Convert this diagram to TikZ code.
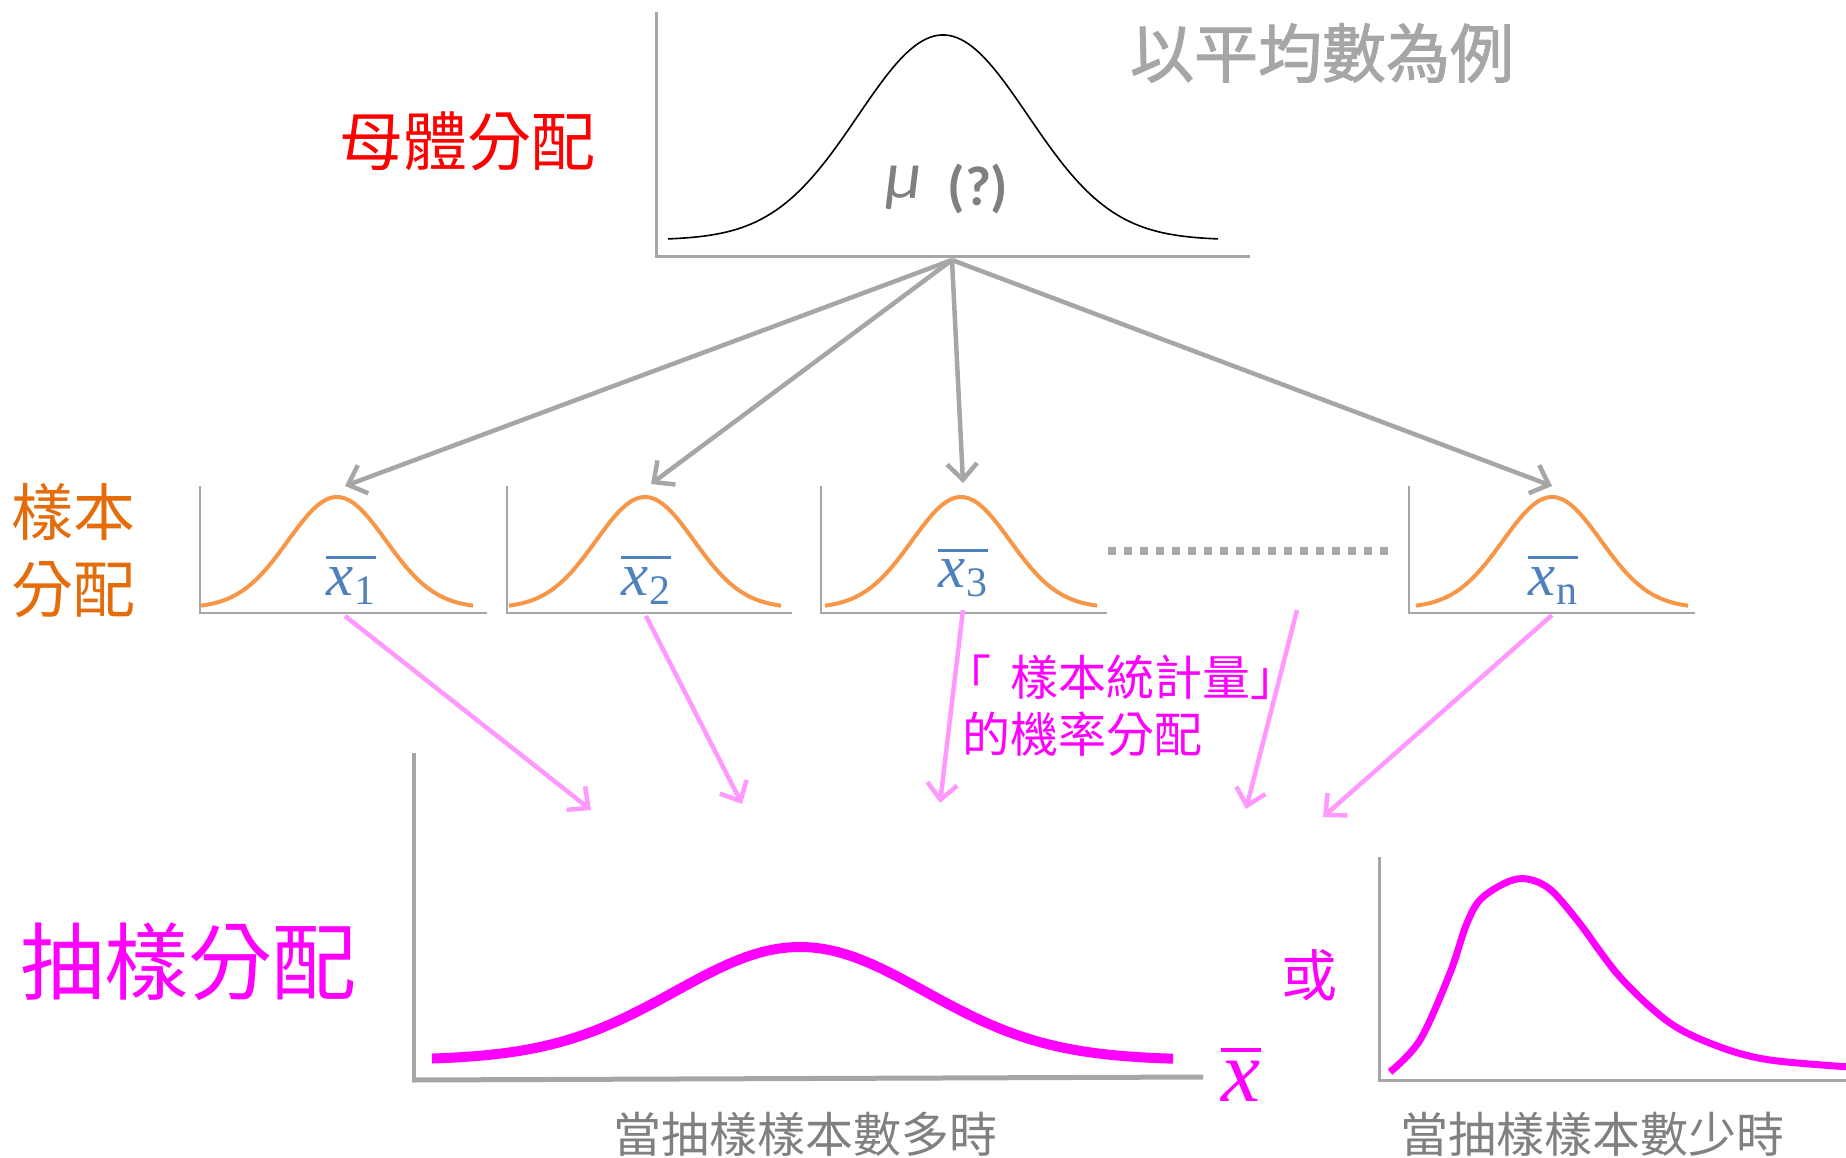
\RequirePackage{fix-cm}
\documentclass[tikz,border=0pt]{standalone}
\usepackage{fontspec}
\usetikzlibrary{arrows.meta}
\newfontfamily\cjk{Noto Sans CJK TC}
\newfontfamily\cjkmed[FakeBold=1.6]{Noto Sans CJK TC}
\newfontfamily\calfont{Carlito}
\newfontfamily\xfont{Liberation Serif}
\definecolor{axisgray}{HTML}{A6A6A6}
\definecolor{txtgray}{HTML}{808080}
\definecolor{orangeC}{HTML}{F79646}
\definecolor{orangeT}{HTML}{E46C0A}
\definecolor{blueL}{HTML}{4F81BD}
\definecolor{pinkA}{HTML}{FF99FF}
\definecolor{mag}{HTML}{FF00FF}
% x-bar label with subscript: #1 = subscript
\newcommand\xsublab[1]{\vbox{\hrule height 3.2pt\kern 8pt\hbox{\itshape x\kern 1.5pt\raisebox{-9pt}{\fontsize{42pt}{42pt}\selectfont\upshape #1}}}}
\newcommand\xbiglab{\vbox{\hrule height 4pt\kern 9pt\hbox{\itshape x}}}
\begin{document}
\begin{tikzpicture}[x=1pt,y=-1pt,
  axisline/.style={draw=axisgray,line width=3pt},
  smallaxis/.style={draw=axisgray,line width=2pt},
  orangecurve/.style={draw=orangeC,line width=4pt},
  grayarrow/.style={draw=axisgray,line width=4.5pt,-{Straight Barb[length=16pt,width=30pt]}},
  pinkarrow/.style={draw=pinkA,line width=4.5pt,-{Straight Barb[length=16pt,width=30pt]}},
  xlabel/.style={text=blueL,inner sep=0pt,font=\xfont\fontsize{61pt}{61pt}\selectfont},
  cjktext/.style={inner sep=0pt,font=\cjk\fontsize{#1}{#1}\selectfont},
]
\useasboundingbox (0,0) rectangle (1846,1158);

% ---------- population distribution ----------
\draw[axisline] (656,12) -- (656,257) -- (1250,257);
\draw[black,line width=1.6pt] plot[domain=-275:275,samples=140]
  ({943+\x},{240-205*exp(-0.5*(\x/85)*(\x/85))});
\node[inner sep=0pt,text=txtgray,font=\calfont\itshape\fontsize{68pt}{70pt}\selectfont] (mu) at (904,188) {μ};
\node[inner sep=0pt,text=txtgray,font=\calfont\bfseries\fontsize{56pt}{60pt}\selectfont] (q) at (978,189) {(?)};
\node[inner sep=0pt,text=axisgray,font=\cjkmed\fontsize{64pt}{64pt}\selectfont] (title) at (1322,53) {以平均數為例};
\node[cjktext=64pt,text=red] (pop) at (467,141) {母體分配};

% ---------- sample distributions ----------
\node[inner sep=0pt,text=orangeT,align=center,font=\cjk\fontsize{62pt}{77pt}\selectfont] (samp) at (74,551) {樣本\\分配};

\draw[smallaxis] (200,486) -- (200,613) -- (487,613);
\draw[smallaxis] (507,486) -- (507,613) -- (792,613);
\draw[smallaxis] (821,486) -- (821,613) -- (1107,613);
\draw[smallaxis] (1409,486) -- (1409,613) -- (1695,613);
\foreach \c in {337,645,961,1552}{
  \draw[orangecurve] plot[domain=-136:136,samples=90]
    ({\c+\x},{608-111*exp(-0.5*(\x/49)*(\x/49))});
}
\node[xlabel] (xb1) at (351,580) {\xsublab{1}};
\node[xlabel] (xb2) at (646,580) {\xsublab{2}};
\node[xlabel] (xb3) at (963,573) {\xsublab{3}};
\node[xlabel] (xbn) at (1553,580) {\xsublab{n}};

\coordinate (d1) at (1108,551);
\coordinate (d2) at (1392,551);
\draw[draw=axisgray,line width=7.5pt,dash pattern=on 8pt off 8pt] (d1) -- (d2);

% gray arrows
\coordinate (src) at (952,260);
\coordinate (t1) at (345,486);
\coordinate (t2) at (651,484);
\coordinate (t3) at (963,483);
\coordinate (t4) at (1552,486);
\draw[grayarrow] (src) -- (t1);
\draw[grayarrow] (src) -- (t2);
\draw[grayarrow] (src) -- (t3);
\draw[grayarrow] (src) -- (t4);

% pink arrows
\coordinate (p1s) at (345,616);  \coordinate (p1e) at (591,810);
\coordinate (p2s) at (646,616);  \coordinate (p2e) at (742,804);
\coordinate (p3s) at (963,610);  \coordinate (p3e) at (940,803);
\coordinate (p4s) at (1297,610); \coordinate (p4e) at (1246,809);
\coordinate (p5s) at (1552,615); \coordinate (p5e) at (1323,817);
\draw[pinkarrow] (p1s) -- (p1e);
\draw[pinkarrow] (p2s) -- (p2e);
\draw[pinkarrow] (p3s) -- (p3e);
\draw[pinkarrow] (p4s) -- (p4e);
\draw[pinkarrow] (p5s) -- (p5e);

\node[inner sep=0pt,anchor=west,text=mag,align=left,font=\cjk\fontsize{48pt}{57pt}\selectfont] (stat) at (962,706) {\kern-19pt「\kern19pt 樣本統計量」\\的機率分配};

% ---------- sampling distribution ----------
\node[cjktext=84pt,text=mag] (sampdist) at (188,962) {抽樣分配};
\draw[draw=axisgray,line width=4pt] (414,753) -- (414,1080);
\draw[draw=axisgray,line width=5pt] (412,1080) -- (1203,1077);
\draw[mag,line width=10pt] plot[domain=-368:373,samples=160]
  ({800+\x},{1060-113*exp(-0.5*(\x/125)*(\x/125))});
\node[inner sep=0pt,text=mag,font=\xfont\fontsize{88pt}{88pt}\selectfont] (xbar) at (1241,1075) {\xbiglab};
\node[cjktext=56pt,text=mag] (or) at (1309,975) {或};
\node[cjktext=48pt,text=txtgray] (cap1) at (805,1134) {當抽樣樣本數多時};

\draw[draw=axisgray,line width=3pt] (1379,857) -- (1379,1080) -- (1850,1080);
\draw[mag,line width=7pt] plot[smooth,tension=0.55] coordinates {
  (1390,1072) (1420,1040) (1450,973) (1467,923) (1483,897) (1517,879)
  (1547,887) (1577,920) (1620,977) (1670,1023) (1720,1047) (1770,1060) (1850,1067)};
\node[cjktext=48pt,text=txtgray] (cap2) at (1592,1134) {當抽樣樣本數少時};
\end{tikzpicture}
\end{document}
